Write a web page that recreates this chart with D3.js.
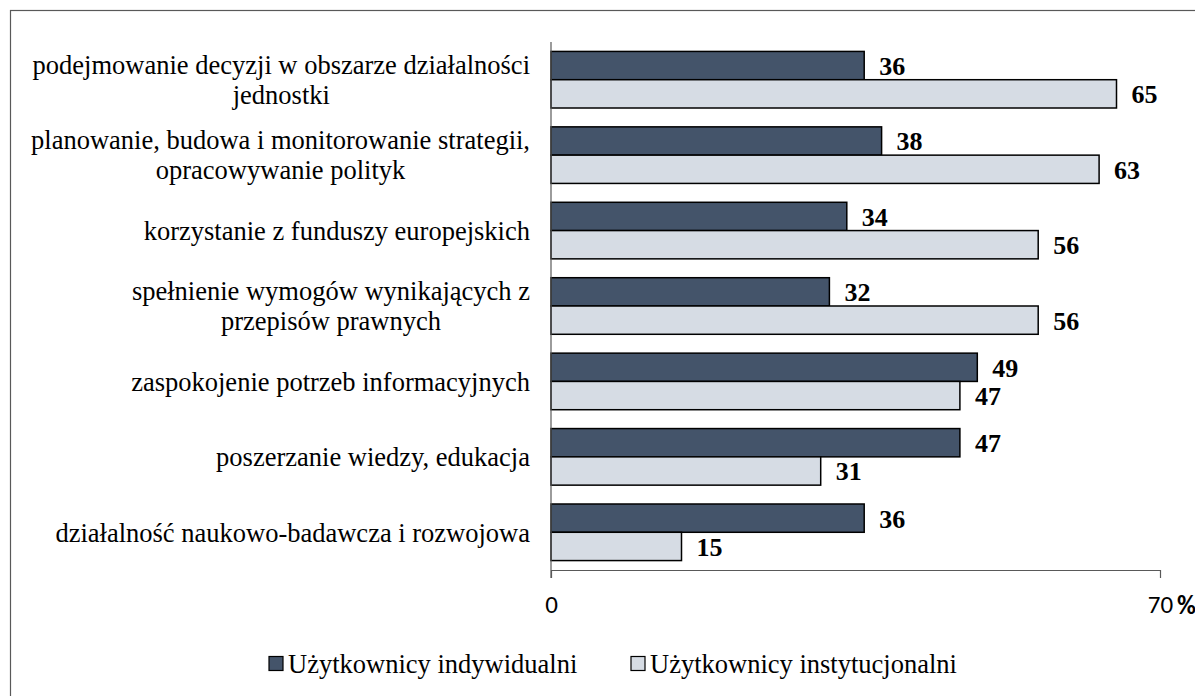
<!DOCTYPE html>
<html><head><meta charset="utf-8">
<script src="https://cdn.jsdelivr.net/npm/d3@7"></script>
<style>body{margin:0;background:#fff;}svg{display:block;}</style>
</head><body>
<svg id="chart" width="1195" height="696"></svg>
<script>
const categories = [
  ["podejmowanie decyzji w obszarze działalności", "jednostki"],
  ["planowanie, budowa i monitorowanie strategii,", "opracowywanie polityk"],
  ["korzystanie z funduszy europejskich"],
  ["spełnienie wymogów wynikających z", "przepisów prawnych"],
  ["zaspokojenie potrzeb informacyjnych"],
  ["poszerzanie wiedzy, edukacja"],
  ["działalność naukowo-badawcza i rozwojowa"]
];
const seriesNames = ["Użytkownicy indywidualni", "Użytkownicy instytucjonalni"];
const individual = [36, 38, 34, 32, 49, 47, 36];
const institutional = [65, 63, 56, 56, 47, 31, 15];
const tickValues = [0, 70];
const colors = ["#44546a", "#d6dce4"];

const serif = "Liberation Serif, Times New Roman, serif";
const svg = d3.select("#chart");
svg.append("rect").attr("x", 10.5).attr("y", 10.5).attr("width", 1200).attr("height", 700)
  .attr("fill", "#fff").attr("stroke", "#595959").attr("stroke-width", 1.2);

const x = d3.scaleLinear().domain([0, 70]).range([551, 1160]);
const y = d3.scaleBand().domain(d3.range(categories.length)).range([42, 570]).paddingInner(0.25).paddingOuter(0.125);
const y2 = d3.scaleBand().domain([0, 1]).range([0, y.bandwidth()]);

const data = [individual, institutional];
data.forEach((vals, s) => {
  const g = svg.append("g");
  g.selectAll("rect").data(vals).join("rect")
    .attr("x", x(0)).attr("y", (d, i) => y(i) + y2(s))
    .attr("width", d => x(d) - x(0)).attr("height", y2.bandwidth())
    .attr("fill", colors[s]).attr("stroke", "#000").attr("stroke-width", 1.5);
  g.selectAll("text").data(vals).join("text")
    .attr("x", d => x(d) + 15).attr("y", (d, i) => y(i) + y2(s) + y2.bandwidth() / 2)
    .attr("dy", "0.36em")
    .attr("font-family", serif).attr("font-weight", "bold").attr("font-size", 26)
    .attr("fill", "#000").text(d => d);
});

// category labels (right aligned block, centered lines)
const labelRight = 530;
const lh = 30;
categories.forEach((lines, i) => {
  const cy = y(i) + y.bandwidth() / 2;
  const g = svg.append("g");
  const texts = lines.map((ln, j) => g.append("text")
    .attr("y", cy + (j - (lines.length - 1) / 2) * lh).attr("dy", "0.35em")
    .attr("font-family", serif).attr("font-size", 26.5)
    .attr("fill", "#000").attr("text-anchor", "middle").text(ln));
  const widths = texts.map(t => t.node().getComputedTextLength());
  const w = d3.max(widths);
  texts.forEach(t => t.attr("x", labelRight - w / 2));
});

// axes
svg.append("line").attr("x1", x(0)).attr("x2", x(0)).attr("y1", 42).attr("y2", 578)
  .attr("stroke", "#595959").attr("stroke-width", 1.2);
const xAxis = d3.axisBottom(x).tickValues(tickValues).tickSize(8).tickSizeOuter(0).tickPadding(17);
const ax = svg.append("g").attr("transform", "translate(0,570)").call(xAxis);
ax.select(".domain").attr("stroke", "#595959").attr("stroke-width", 1.2);
ax.selectAll(".tick line").attr("stroke", "#595959").attr("stroke-width", 1.2);
ax.selectAll(".tick text").attr("font-family", "Carlito, 'Liberation Sans', sans-serif").attr("font-size", 25).attr("fill", "#000");
svg.append("text").attr("x", 1177).attr("y", 614).attr("font-family", "Carlito, 'Liberation Sans', sans-serif")
  .attr("font-weight", "bold").attr("font-size", 26).attr("fill", "#000").text("%");

// legend
const legendX = [269, 631];
seriesNames.forEach((n, s) => {
  svg.append("rect").attr("x", legendX[s]).attr("y", 656.5).attr("width", 14).attr("height", 14)
    .attr("fill", colors[s]).attr("stroke", "#000").attr("stroke-width", 1.2);
  svg.append("text").attr("x", legendX[s] + 19).attr("y", 663.5).attr("dy", "0.35em")
    .attr("font-family", serif).attr("font-size", 26.5).attr("fill", "#000").text(n);
});
</script>
</body></html>
